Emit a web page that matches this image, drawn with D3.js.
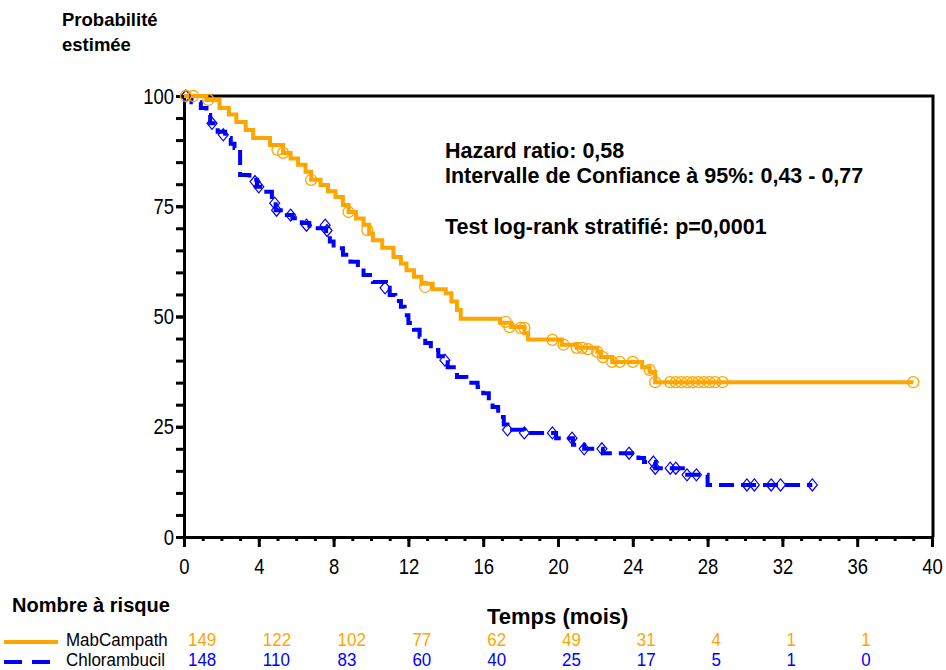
<!DOCTYPE html>
<html lang="fr">
  <head>
    <meta charset="utf-8">
    <title>Survie sans progression</title>
    <style>
      body { margin: 0; background: #fff; }
      svg { display: block; }
      .bold { font-family: Arial, "Liberation Sans", sans-serif; font-weight: bold; fill: #000; }
      .reg { font-family: Arial, "Liberation Sans", sans-serif; }
      .axis path, .axis line { stroke: #000; stroke-width: 3px; }
    </style>
  </head>
  <body>
    <script src="https://cdn.jsdelivr.net/npm/d3@7"></script>
    <script>

      // ---- data ----
      var seriesNames = ["MabCampath", "Chlorambucil"];

      // Kaplan-Meier steps: [mois, probabilité %]
      var mabSteps = [
        [0, 100], [1.2, 99.1], [1.9, 97.3], [2.4, 95.8], [2.8, 94.1], [3.3, 92.3], [3.7, 90.5],
        [4.6, 88.9], [5.3, 87.1], [5.7, 85.8], [6.1, 84.4], [6.5, 82.8], [6.8, 81], [7.3, 79.8],
        [7.7, 78.4], [8.1, 77.1], [8.5, 75.3], [8.8, 73.7], [9.2, 72.2], [9.6, 70.8], [9.9, 68.8],
        [10.1, 67.3], [10.6, 65.6], [11.2, 63.5], [11.6, 62], [11.9, 60.5], [12.3, 59], [12.7, 57.4],
        [13.3, 56.2], [14.0, 55.3], [14.3, 53.4], [14.6, 51.5], [14.8, 49.5], [16.9, 48.6],
        [17.5, 47.6], [18.2, 46.2], [18.4, 44.8], [20.2, 43.6], [21.0, 42.9], [22.1, 42],
        [22.3, 40.8], [22.9, 39.7], [24.5, 38.5], [24.9, 37.4], [25.2, 35.1], [39.0, 35.1]
      ];
      var mabCensor = [
        [0.1, 100], [0.5, 100], [1.3, 99.1], [5.0, 87.8], [5.3, 87.1], [6.8, 81], [8.8, 73.7],
        [9.8, 69.6], [12.9, 56.7], [17.2, 48.8], [17.4, 47.6], [18.0, 47.4], [18.2, 47.4],
        [19.7, 44.7], [20.3, 43.6], [21.0, 42.9], [21.3, 42.9], [21.6, 42.6], [22.1, 42],
        [22.4, 40.8], [22.9, 39.7], [23.3, 39.7], [24.0, 39.7], [24.9, 37.9], [25.2, 35.1],
        [26.0, 35.1], [26.3, 35.1], [26.6, 35.1], [26.9, 35.1], [27.2, 35.1], [27.5, 35.1],
        [27.8, 35.1], [28.1, 35.1], [28.4, 35.1], [28.8, 35.1], [39.0, 35.1]
      ];

      var chlSteps = [
        [0, 100], [0.4, 98.6], [0.9, 97.3], [1.2, 95.7], [1.4, 93.8], [1.8, 91.9], [2.2, 90.5],
        [2.5, 89.2], [2.7, 88.2], [3.0, 82.1], [3.5, 81], [3.9, 79.4], [4.4, 78.3], [4.7, 76.4],
        [4.9, 74.1], [5.5, 73], [5.8, 72.3], [6.3, 71.2], [6.7, 70], [7.6, 68.5], [7.8, 67],
        [8.0, 65.5], [8.5, 64], [8.9, 62.4], [9.3, 61], [9.6, 59.4], [10.1, 57.8], [10.8, 56.5],
        [11.0, 54.9], [11.3, 53.5], [11.6, 52.2], [11.8, 50.3], [12.0, 48.5], [12.3, 47],
        [12.6, 45.4], [12.9, 44], [13.2, 42.4], [13.6, 41], [14.1, 38.5], [14.6, 36.3],
        [15.1, 35], [15.7, 34], [16.0, 32.6], [16.3, 31], [16.5, 29.5], [16.8, 27.2],
        [17.1, 25.5], [17.3, 24.3], [18.2, 23.6], [19.9, 22.4], [20.8, 20.9], [21.4, 20],
        [22.4, 19], [24.3, 17.9], [24.6, 17], [25.2, 15.6], [26.8, 14.1], [28.0, 11.8], [33.6, 11.8]
      ];
      var chlCensor = [
        [0.1, 100], [1.5, 93.8], [2.1, 91.2], [3.8, 80.6], [4.0, 79.4], [4.85, 75.7], [4.95, 74.1],
        [5.7, 73], [6.55, 70.7], [7.55, 70.7], [7.65, 69.5], [10.75, 56.5], [13.95, 40.1],
        [17.3, 24.3], [18.2, 23.6], [19.7, 23.6], [20.75, 22.4], [21.4, 20], [22.35, 20],
        [23.8, 19], [25.1, 17], [25.2, 15.6], [26.0, 15.6], [26.3, 15.6], [26.9, 14.1],
        [27.4, 14.1], [30.1, 11.8], [30.5, 11.8], [31.4, 11.8], [31.9, 11.8], [33.6, 11.8]
      ];

      // nombre à risque
      var riskTimes = [0, 4, 8, 12, 16, 20, 24, 28, 32, 36];
      var mabRisk = [149, 122, 102, 77, 62, 49, 31, 4, 1, 1];
      var chlRisk = [148, 110, 83, 60, 40, 25, 17, 5, 1, 0];

      var xTicks = [0, 4, 8, 12, 16, 20, 24, 28, 32, 36, 40];
      var yTicks = [0, 25, 50, 75, 100];

      var orange = "#ffa500", blue = "#0000ff";
      var sx = 0.84;   // narrow look of the regular text

      var width = 946, height = 670;

      var svg = d3.select("body").append("svg")
          .attr("width", width)
          .attr("height", height);

      var x = d3.scaleLinear().domain([0, 40]).range([184, 932]);
      var y = d3.scaleLinear().domain([0, 100]).range([537, 96]);

      // ---- axes ----
      var gx = svg.append("g").attr("class", "axis")
          .attr("transform", "translate(0," + y(0) + ")");
      gx.append("g")
          .call(d3.axisBottom(x).tickValues(d3.range(0, 41)).tickSize(4).tickFormat(""))
          .select(".domain").remove();
      gx.append("g")
          .call(d3.axisBottom(x).tickValues(xTicks).tickSize(10).tickSizeOuter(0).tickPadding(11));

      var gy = svg.append("g").attr("class", "axis")
          .attr("transform", "translate(" + x(0) + ",0)");
      gy.append("g")
          .call(d3.axisLeft(y).tickValues(d3.range(0, 101, 5)).tickSize(8).tickFormat(""))
          .select(".domain").remove();
      gy.append("g")
          .call(d3.axisLeft(y).tickValues(yTicks).tickSize(8).tickSizeOuter(0).tickPadding(2));

      svg.selectAll(".axis text")
          .attr("class", "reg")
          .style("font-size", "22px")
          .attr("fill", "#000")
          .attr("transform", "scale(" + sx + ",1)");
      gy.selectAll("text").attr("x", -10 / sx);

      // frame top / right
      svg.append("path")
          .attr("d", "M" + x(0) + "," + y(100) + "H" + (x(40) + 1) + "V" + y(0))
          .attr("fill", "none").attr("stroke", "#000").attr("stroke-width", 3);

      // ---- curves ----
      var line = d3.line()
          .x(function(d) { return x(d[0]); })
          .y(function(d) { return y(d[1]); })
          .curve(d3.curveStepAfter);

      svg.append("path").datum(chlSteps)
          .attr("d", line)
          .attr("fill", "none").attr("stroke", blue)
          .attr("stroke-width", 4).attr("stroke-dasharray", "15,7");

      svg.append("path").datum(mabSteps)
          .attr("d", line)
          .attr("fill", "none").attr("stroke", orange)
          .attr("stroke-width", 4);

      // censure markers
      svg.append("g").selectAll("path").data(chlCensor).join("path")
          .attr("d", function(d) {
            var cx = x(d[0]), cy = y(d[1]);
            return "M" + cx + "," + (cy - 6) + "L" + (cx + 5) + "," + cy + "L" + cx + "," + (cy + 6) + "L" + (cx - 5) + "," + cy + "Z";
          })
          .attr("fill", "none").attr("stroke", blue).attr("stroke-width", 1.2);

      svg.append("g").selectAll("circle").data(mabCensor).join("circle")
          .attr("cx", function(d) { return x(d[0]); })
          .attr("cy", function(d) { return y(d[1]); })
          .attr("r", 5.5)
          .attr("fill", "none").attr("stroke", orange).attr("stroke-width", 1.3);

      // ---- texts ----
      svg.append("text").attr("class", "bold").attr("x", 62).attr("y", 26)
          .style("font-size", "18.5px").text("Probabilité");
      svg.append("text").attr("class", "bold").attr("x", 62).attr("y", 51)
          .style("font-size", "18.5px").text("estimée");

      var notes = [
        ["Hazard ratio: 0,58", 158],
        ["Intervalle de Confiance à 95%: 0,43 - 0,77", 183],
        ["Test log-rank stratifié: p=0,0001", 234]
      ];
      svg.append("g").selectAll("text").data(notes).join("text")
          .attr("class", "bold")
          .attr("x", 445)
          .attr("y", function(d) { return d[1]; })
          .style("font-size", "21.5px")
          .text(function(d) { return d[0]; });

      svg.append("text").attr("class", "bold").attr("x", 12).attr("y", 612)
          .style("font-size", "20px").text("Nombre à risque");
      svg.append("text").attr("class", "bold").attr("x", 487).attr("y", 624)
          .style("font-size", "22px").text("Temps (mois)");

      // legend + nombre à risque rows
      var rowSx = 0.97;
      var rows = [
        { name: seriesNames[0], color: orange, dash: null, risk: mabRisk, y: 646 },
        { name: seriesNames[1], color: blue, dash: "18,10", risk: chlRisk, y: 666 }
      ];
      rows.forEach(function(r) {
        svg.append("line")
            .attr("x1", 4).attr("x2", 58)
            .attr("y1", r.y - 4).attr("y2", r.y - 4)
            .attr("stroke", r.color).attr("stroke-width", 4)
            .attr("stroke-dasharray", r.dash);
        svg.append("text").attr("class", "reg")
            .attr("transform", "translate(66," + r.y + ") scale(" + rowSx + ",1)")
            .style("font-size", "17.5px").attr("fill", "#000")
            .text(r.name);
        svg.append("g").selectAll("text").data(riskTimes).join("text")
            .attr("class", "reg")
            .attr("transform", function(t) { return "translate(" + (x(t) + 4) + "," + r.y + ") scale(" + rowSx + ",1)"; })
            .style("font-size", "17.5px").attr("fill", r.color)
            .text(function(t, i) { return r.risk[i]; });
      });

    </script>
  </body>
</html>
